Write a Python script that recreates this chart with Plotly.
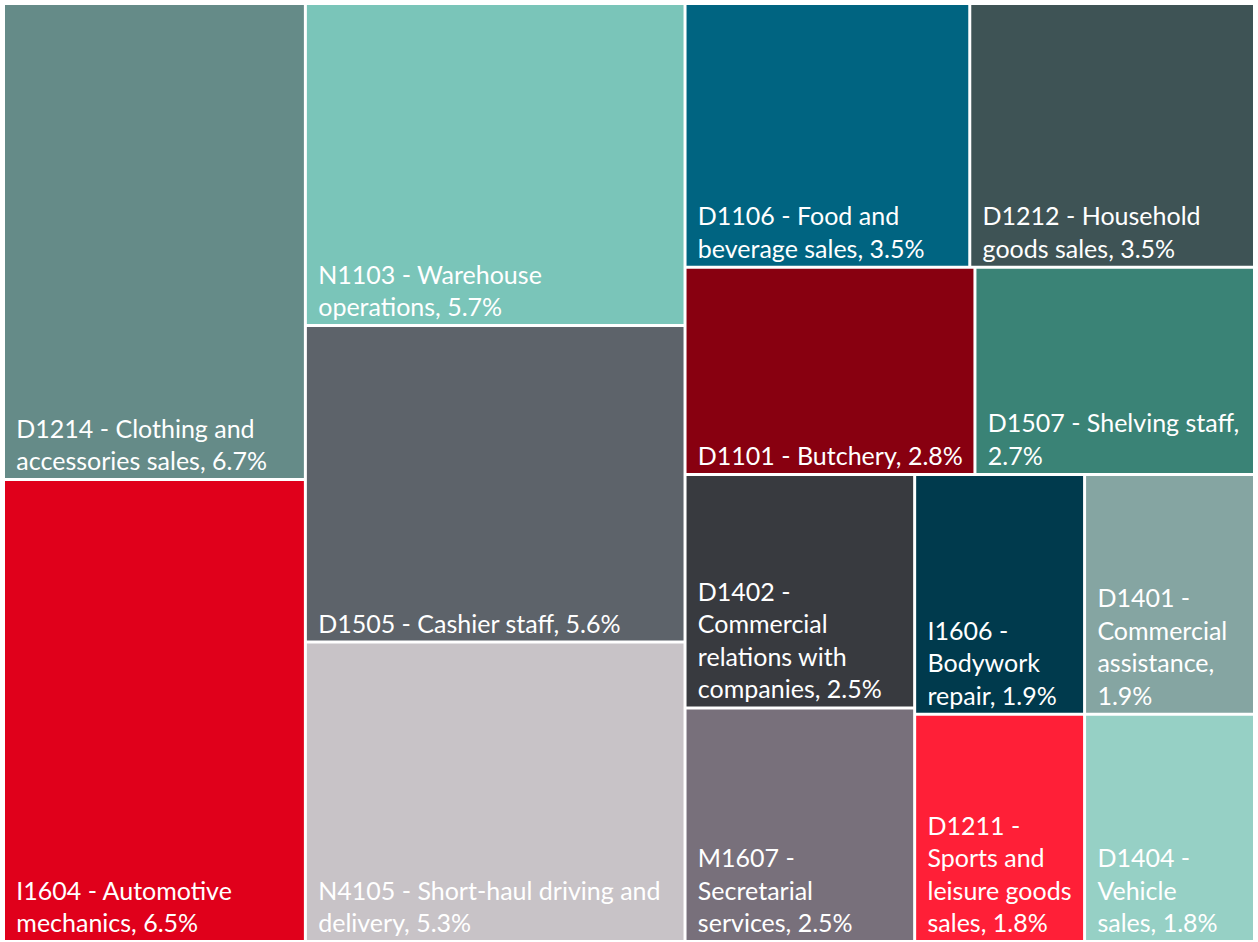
import plotly.graph_objects as go

# Leaf data
codes = ["D1214", "I1604", "N1103", "D1505", "N4105", "D1106", "D1212", "D1101",
         "D1507", "D1402", "M1607", "I1606", "D1401", "D1211", "D1404"]
names = ["Clothing and<br>accessories sales", "Automotive<br>mechanics", "Warehouse<br>operations",
         "Cashier staff", "Short-haul driving and<br>delivery", "Food and<br>beverage sales",
         "Household<br>goods sales", "Butchery", "Shelving staff,<br>", "<br>Commercial<br>relations with<br>companies",
         "<br>Secretarial<br>services", "<br>Bodywork<br>repair", "<br>Commercial<br>assistance,<br>",
         "<br>Sports and<br>leisure goods<br>sales", "<br>Vehicle<br>sales"]
shares = [6.7, 6.5, 5.7, 5.6, 5.3, 3.5, 3.5, 2.8, 2.7, 2.5, 2.5, 1.9, 1.9, 1.8, 1.8]
colors = ["#658b88", "#e0001b", "#7ac5b9", "#5d636a", "#c8c3c7", "#006481", "#3e5355", "#880010",
          "#3a8376", "#383a3f", "#78707b", "#003a4d", "#85a5a2", "#ff1f37", "#96d0c5"]
# grouping of leaves (layout blocks)
leaf_parent = ["A", "A", "B", "B", "B", "C1", "C1", "C2", "C2", "C3a", "C3a", "C3b1", "C3b1", "C3b2", "C3b2"]

group_ids = ["root", "A", "B", "C", "C1", "C2", "C3", "C3a", "C3b", "C3b1", "C3b2"]
group_parents = ["", "root", "root", "root", "C", "C", "C", "C3", "C3", "C3b", "C3b"]

INSET = "\u2004"


def fmt(code, name, v):
    if name.endswith("<br>"):
        s = f"{code} - {name[:-4]}<br>{v}%"
    elif name.startswith("<br>"):
        s = f"{code} -{name}, {v}%"
    else:
        s = f"{code} - {name}, {v}%"
    return "<br>".join(INSET + line for line in s.split("<br>"))


leaf_text = [fmt(c, n, v) for c, n, v in zip(codes, names, shares)]

ids = group_ids + codes
parents = group_parents + leaf_parent
values = [0] * len(group_ids) + shares
texts = [""] * len(group_ids) + leaf_text
cols = ["#ffffff"] * len(group_ids) + colors

fig = go.Figure(go.Treemap(
    ids=ids,
    labels=ids,
    parents=parents,
    values=values,
    branchvalues="remainder",
    text=texts,
    texttemplate="%{text}",
    textposition="bottom left",
    textfont=dict(family="Lato", size=25, color="#ffffff"),
    marker=dict(colors=cols, line=dict(width=0, color="#ffffff"),
                pad=dict(t=0, l=0, r=0, b=0)),
    tiling=dict(packing="slice-dice", pad=3),
    pathbar=dict(visible=False),
    sort=False,
    hoverinfo="text",
))
fig.update_layout(
    width=1258, height=942,
    margin=dict(l=5, r=5, t=5, b=2),
    paper_bgcolor="#ffffff",
    uniformtext=dict(minsize=25, mode="show"),
)
fig.write_html("out.html", config={"displayModeBar": False},
               post_script="document.body.style.margin='0';")
